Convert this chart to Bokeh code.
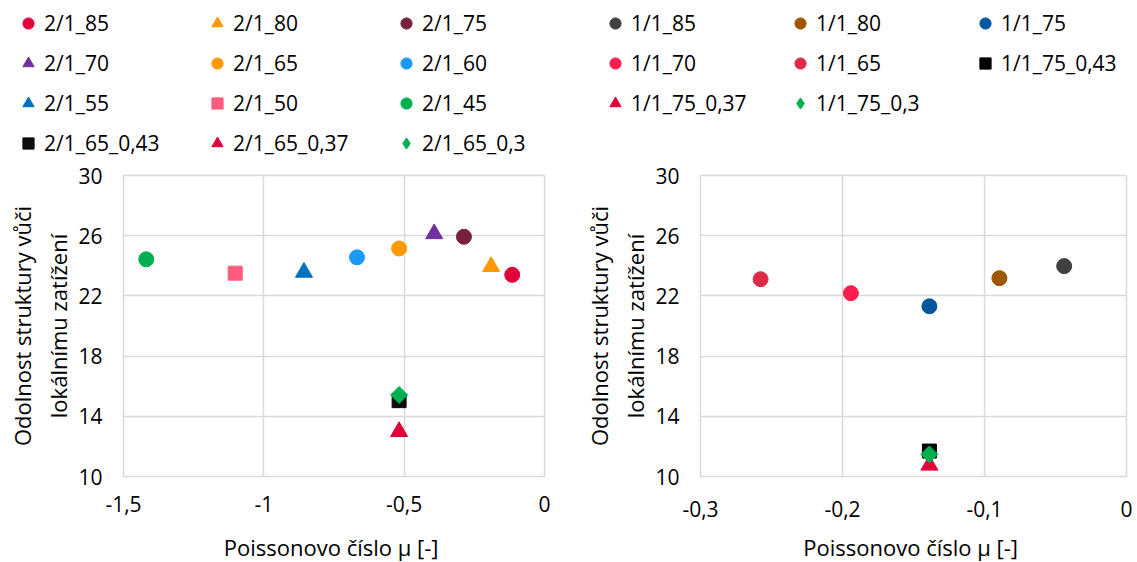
import math
from bokeh.plotting import figure
from bokeh.layouts import row, column
from bokeh.models import FixedTicker, Legend, LegendItem
from bokeh.core.properties import value
from bokeh.embed import file_html
from bokeh.resources import INLINE

# ---------------- data ----------------
left_names = ["2/1_85", "2/1_80", "2/1_75", "2/1_70", "2/1_65", "2/1_60",
              "2/1_55", "2/1_50", "2/1_45", "2/1_65_0,43", "2/1_65_0,37", "2/1_65_0,3"]
left_mu = [-0.115, -0.19, -0.287, -0.393, -0.518, -0.668,
           -0.857, -1.102, -1.419, -0.518, -0.518, -0.518]
left_r = [23.40, 23.95, 25.93, 26.13, 25.15, 24.56,
          23.57, 23.51, 24.43, 15.04, 12.98, 15.42]

right_names = ["1/1_85", "1/1_80", "1/1_75", "1/1_70", "1/1_65",
               "1/1_75_0,43", "1/1_75_0,37", "1/1_75_0,3"]
right_mu = [-0.0439, -0.0895, -0.1388, -0.1941, -0.2577, -0.1388, -0.1388, -0.1388]
right_r = [23.98, 23.18, 21.31, 22.18, 23.11, 11.69, 10.75, 11.47]

y_ticks = [10, 14, 18, 22, 26, 30]
left_x_ticks = [-1.5, -1.0, -0.5, 0.0]
left_x_labels = ["-1,5", "-1", "-0,5", "0"]
right_x_ticks = [-0.3, -0.2, -0.1, 0.0]
right_x_labels = ["-0,3", "-0,2", "-0,1", "0"]

y_title = "Odolnost struktury vůči\nlokálnímu zatížení"
x_title = "Poissonovo číslo μ  [-]"

# ---------------- styles ----------------
left_colors = ["#E2003B", "#FF9900", "#78213A", "#7030A0", "#FF9900", "#1A9BFC",
               "#0070C0", "#FF5B7E", "#00B050", "#0D0D0D", "#E2003B", "#00B050"]
left_markers = ["circle", "triangle", "circle", "triangle", "circle", "circle",
                "triangle", "square", "circle", "square", "triangle", "diamond"]
right_colors = ["#404040", "#9C5700", "#00579E", "#FF1E50", "#DA2C47",
                "#000000", "#E2003B", "#00B050"]
right_markers = ["circle", "circle", "circle", "circle", "circle",
                 "square", "triangle", "diamond"]
marker_size = {"circle": 15, "triangle": 17, "square": 14, "diamond": 12}

FONT = "Open Sans"
GRID = "#D9D9D9"
TOTAL_H = 562
LEG_H = 160
TITLE_H = 31
MAIN_H = TOTAL_H - LEG_H - TITLE_H
W1, W2 = 577, 560


def add_series(p, names, mu, r, colors, markers, for_legend=False):
    rends = []
    for i, n in enumerate(names):
        m = markers[i]
        if m == "diamond" and not for_legend:
            rr = p.scatter([mu[i]], [r[i]], marker="square", angle=math.pi / 4,
                           size=marker_size[m], fill_color=colors[i], line_color=colors[i])
        else:
            rr = p.scatter([mu[i]], [r[i]], marker=m, size=marker_size[m],
                           fill_color=colors[i], line_color=colors[i])
        rends.append(rr)
    return rends


def make_legend_fig(names, mu, r, colors, markers, w, loc, label_w):
    lf = figure(width=w, height=LEG_H, min_border=0,
                x_range=(0, 1), y_range=(0, 1),
                x_axis_location=None, y_axis_location=None,
                output_backend="svg", toolbar_location=None)
    lf.outline_line_color = None
    lf.xgrid.visible = False
    lf.ygrid.visible = False
    rends = add_series(lf, names, mu, r, colors, markers, for_legend=True)
    items = [LegendItem(label=n, renderers=[rr]) for n, rr in zip(names, rends)]
    leg = Legend(items=items, location=loc, orientation="horizontal", ncols=3,
                 padding=0, margin=0, spacing=12, glyph_width=28, glyph_height=28,
                 label_standoff=2, label_width=label_w, label_height=28,
                 background_fill_alpha=0, border_line_color=None,
                 label_text_font=FONT, label_text_font_size="21px",
                 label_text_color="#000000")
    lf.add_layout(leg, "center")
    return lf


def make_title_fig(w, cx):
    tf = figure(width=w, height=TITLE_H, min_border=0,
                x_range=(0, w), y_range=(0, 1),
                x_axis_location=None, y_axis_location=None,
                output_backend="svg", toolbar_location=None)
    tf.outline_line_color = None
    tf.xgrid.visible = False
    tf.ygrid.visible = False
    tf.text(x=[cx], y=[0.5], text=[x_title], text_align="center",
            text_baseline="middle", text_font=value(FONT),
            text_font_size="22px", text_color="#000000")
    return tf


def make_panel(names, mu, r, colors, markers, x_range, xt, xl,
               w, b_left, b_right, b_bottom, x_std):
    p = figure(width=w, height=MAIN_H,
               min_border_left=b_left, min_border_right=b_right,
               min_border_top=15, min_border_bottom=b_bottom,
               x_range=x_range, y_range=(10, 30),
               output_backend="svg", toolbar_location=None)
    p.background_fill_color = "white"
    p.border_fill_color = "white"
    p.outline_line_color = GRID
    p.outline_line_width = 1.5

    add_series(p, names, mu, r, colors, markers)

    p.xaxis.ticker = FixedTicker(ticks=xt)
    p.xaxis.major_label_overrides = {t: l for t, l in zip(xt, xl)}
    p.yaxis.ticker = FixedTicker(ticks=y_ticks)

    for ax in (p.xaxis[0], p.yaxis[0]):
        ax.axis_line_color = None
        ax.major_tick_line_color = None
        ax.minor_tick_line_color = None
        ax.major_tick_out = 0
        ax.major_tick_in = 0
        ax.major_label_text_font = FONT
        ax.major_label_text_font_size = "21px"
        ax.major_label_text_color = "#000000"
        ax.axis_label_text_font = FONT
        ax.axis_label_text_font_size = "22px"
        ax.axis_label_text_font_style = "normal"
        ax.axis_label_text_color = "#000000"
    p.xaxis.major_label_standoff = x_std
    p.yaxis.major_label_standoff = 21
    p.yaxis.axis_label = y_title
    p.yaxis.axis_label_standoff = 2

    p.xgrid.ticker = FixedTicker(ticks=xt)
    p.ygrid.ticker = FixedTicker(ticks=y_ticks)
    p.xgrid.grid_line_color = GRID
    p.ygrid.grid_line_color = GRID
    p.xgrid.grid_line_width = 1.5
    p.ygrid.grid_line_width = 1.5
    return p


l1 = make_legend_fig(left_names, left_mu, left_r, left_colors, left_markers,
                     W1, (14, 3), 147)
l2 = make_legend_fig(right_names, right_mu, right_r, right_colors, right_markers,
                     W2, (601 - W1, 43), 143)
p1 = make_panel(left_names, left_mu, left_r, left_colors, left_markers,
                (-1.5, 0), left_x_ticks, left_x_labels,
                W1, 123, 33, MAIN_H - 15 - 307, 19)
p2 = make_panel(right_names, right_mu, right_r, right_colors, right_markers,
                (-0.3, 0), right_x_ticks, right_x_labels,
                W2, 123, 11, MAIN_H - 15 - 301, 24)
t1 = make_title_fig(W1, 333.5)
t2 = make_title_fig(W2, 913 - W1)

layout = column(row(l1, l2), row(p1, p2), row(t1, t2))
open("out.html", "w").write(file_html(layout, INLINE))
